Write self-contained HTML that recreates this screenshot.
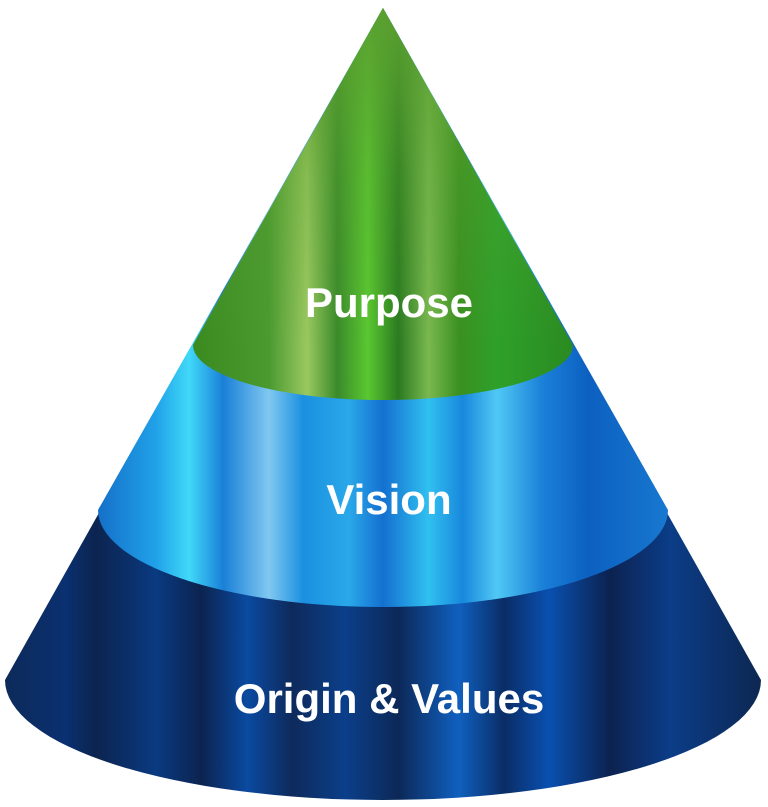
<!DOCTYPE html>
<html><head><meta charset="utf-8"><style>
html,body{margin:0;padding:0;background:#fff;width:768px;height:807px;overflow:hidden}
text{font-family:"Liberation Sans",sans-serif;font-weight:bold;fill:#fff}
</style></head><body>
<svg width="768" height="807" viewBox="0 0 768 807">
<defs>
<linearGradient id="gd" x1="0" x2="1" y1="0" y2="0">
<stop offset="0" stop-color="#0d2a5a"/><stop offset="0.08" stop-color="#0a3070"/>
<stop offset="0.12" stop-color="#0c2450"/><stop offset="0.2" stop-color="#0a3a80"/>
<stop offset="0.26" stop-color="#0c2350"/><stop offset="0.32" stop-color="#0a4aa0"/>
<stop offset="0.38" stop-color="#0e2a5c"/><stop offset="0.45" stop-color="#0b3f8a"/>
<stop offset="0.52" stop-color="#0c2858"/><stop offset="0.6" stop-color="#1060c0"/>
<stop offset="0.66" stop-color="#0a2d66"/><stop offset="0.72" stop-color="#0a50b0"/>
<stop offset="0.8" stop-color="#0c2250"/><stop offset="0.88" stop-color="#0b3d88"/>
<stop offset="1" stop-color="#0d2752"/>
</linearGradient>
<linearGradient id="gb" x1="0" x2="1" y1="0" y2="0">
<stop offset="0" stop-color="#1570c8"/><stop offset="0.1" stop-color="#20a0e8"/>
<stop offset="0.16" stop-color="#40d8f8"/><stop offset="0.22" stop-color="#1a80d8"/>
<stop offset="0.3" stop-color="#80c8f0"/><stop offset="0.36" stop-color="#1a90e0"/>
<stop offset="0.44" stop-color="#2aa8ea"/><stop offset="0.5" stop-color="#1470d0"/>
<stop offset="0.58" stop-color="#30c0f0"/><stop offset="0.64" stop-color="#1888dc"/>
<stop offset="0.7" stop-color="#50c8f4"/><stop offset="0.78" stop-color="#1a80d8"/>
<stop offset="0.86" stop-color="#0c60c0"/><stop offset="1" stop-color="#1878d0"/>
</linearGradient>
<linearGradient id="gg" x1="0" x2="1" y1="0" y2="0">
<stop offset="0" stop-color="#3a8a20"/><stop offset="0.2" stop-color="#4a9a30"/>
<stop offset="0.3" stop-color="#9ac860"/><stop offset="0.38" stop-color="#3a8a2a"/>
<stop offset="0.46" stop-color="#5ac830"/><stop offset="0.54" stop-color="#2a7a20"/>
<stop offset="0.62" stop-color="#7ab850"/><stop offset="0.7" stop-color="#3a9020"/>
<stop offset="0.8" stop-color="#2ea02a"/><stop offset="1" stop-color="#2a8a20"/>
</linearGradient>
<linearGradient id="gv" x1="0" x2="0" y1="0" y2="1">
<stop offset="0" stop-color="#5aa030" stop-opacity="1"/><stop offset="0.5" stop-color="#5aa030" stop-opacity="0.3"/><stop offset="1" stop-color="#5aa030" stop-opacity="0"/>
</linearGradient>
</defs>
<path d="M5,680 L383,8 L761,680 A378 120 0 0 1 5 680 Z" fill="url(#gd)"/>
<path d="M98,510 L383,8 L668,510 A285 97 0 0 1 98 510 Z" fill="url(#gb)"/>
<path d="M193,345 L383,8 L573,345 A190 55 0 0 1 193 345 Z" fill="url(#gg)"/>
<path d="M193,345 L383,8 L573,345 Z" fill="url(#gv)"/>
<text x="389" y="317" font-size="42" text-anchor="middle">Purpose</text>
<text x="389" y="514" font-size="42" text-anchor="middle">Vision</text>
<text x="389" y="713" font-size="42" text-anchor="middle">Origin &amp; Values</text>
</svg>
</body></html>
